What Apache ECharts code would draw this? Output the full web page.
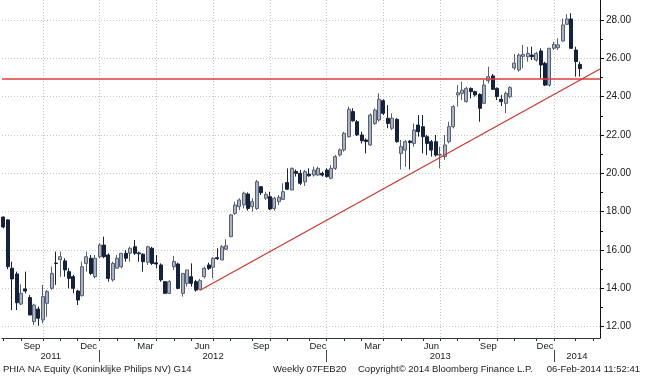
<!DOCTYPE html>
<html><head><meta charset="utf-8">
<script src="https://cdn.jsdelivr.net/npm/echarts@6/dist/echarts.min.js"></script>
<style>html,body{margin:0;padding:0;background:#fff}#c{width:645px;height:376px}</style>
</head><body><div id="c"></div><script>
// ---- data: weekly bars (Friday dates) ----
const dates = [
'2011-07-29','2011-08-05','2011-08-12','2011-08-19','2011-08-26','2011-09-02','2011-09-09','2011-09-16','2011-09-23','2011-09-30',
'2011-10-07','2011-10-14','2011-10-21','2011-10-28','2011-11-04','2011-11-11','2011-11-18','2011-11-25','2011-12-02','2011-12-09',
'2011-12-16','2011-12-23','2011-12-30',
'2012-01-06','2012-01-13','2012-01-20','2012-01-27','2012-02-03','2012-02-10','2012-02-17','2012-02-24','2012-03-02','2012-03-09',
'2012-03-16','2012-03-23','2012-03-30','2012-04-06','2012-04-13','2012-04-20','2012-04-27','2012-05-04','2012-05-11','2012-05-18',
'2012-05-25','2012-06-01','2012-06-08','2012-06-15','2012-06-22','2012-06-29','2012-07-06','2012-07-13','2012-07-20','2012-07-27',
'2012-08-03','2012-08-10','2012-08-17','2012-08-24','2012-08-31','2012-09-07','2012-09-14','2012-09-21','2012-09-28','2012-10-05',
'2012-10-12','2012-10-19','2012-10-26','2012-11-02','2012-11-09','2012-11-16','2012-11-23','2012-11-30','2012-12-07','2012-12-14',
'2012-12-21','2012-12-28',
'2013-01-04','2013-01-11','2013-01-18','2013-01-25','2013-02-01','2013-02-08','2013-02-15','2013-02-22','2013-03-01','2013-03-08',
'2013-03-15','2013-03-22','2013-03-29','2013-04-05','2013-04-12','2013-04-19','2013-04-26','2013-05-03','2013-05-10','2013-05-17',
'2013-05-24','2013-05-31','2013-06-07','2013-06-14','2013-06-21','2013-06-28','2013-07-05','2013-07-12','2013-07-19','2013-07-26',
'2013-08-02','2013-08-09','2013-08-16','2013-08-23','2013-08-30','2013-09-06','2013-09-13','2013-09-20','2013-09-27','2013-10-04',
'2013-10-11','2013-10-18','2013-10-25','2013-11-01','2013-11-08','2013-11-15','2013-11-22','2013-11-29','2013-12-06','2013-12-13',
'2013-12-20','2013-12-27',
'2014-01-03','2014-01-10','2014-01-17','2014-01-24','2014-01-31','2014-02-07'
];
const opens = [
17.72,17.57,15.05,14.75,13.18,13.97,13.52,12.26,12.92,12.35,
13.22,14.0,15.32,15.5,15.43,14.87,14.61,13.86,13.62,15.3,
15.57,14.61,15.65,16.26,15.74,14.44,15.05,15.13,15.83,15.83,
16.17,15.85,15.78,15.36,16.09,15.33,15.22,14.35,13.74,15.13,
15.27,13.74,14.26,14.61,14.35,13.95,14.61,15.22,15.1,15.6,
15.48,16.04,16.7,17.91,18.26,18.35,18.92,18.26,18.17,19.3,
18.7,18.78,18.17,18.52,18.64,19.52,19.13,20.09,20.0,19.56,
19.96,19.91,19.91,20.0,20.17,19.74,20.26,20.96,21.22,21.91,
23.22,22.69,22.0,21.74,21.48,22.6,22.78,23.79,22.87,22.35,
22.82,21.04,21.21,21.68,21.56,22.52,22.43,21.91,21.65,21.65,
20.95,20.87,21.65,22.43,24.09,24.17,23.74,24.43,24.26,24.12,
23.65,24.83,25.08,24.43,23.86,23.65,24.0,25.5,25.39,26.1,
26.08,26.17,25.91,26.38,25.74,24.6,26.52,26.55,26.9,27.77,
28.05,26.43,25.68
];
const closes = [
17.2,15.13,14.49,13.25,13.74,13.86,12.61,13.13,12.44,13.57,
13.83,14.78,15.3,15.65,14.96,14.52,14.0,13.39,15.13,15.65,
14.78,15.57,16.26,15.65,14.52,15.3,15.57,15.83,15.57,16.09,
15.83,15.8,15.39,16.17,15.3,15.27,14.44,13.74,14.35,15.4,
14.0,14.78,14.96,14.26,13.91,14.4,15.04,15.04,15.57,15.55,
16.17,16.22,17.83,18.35,18.61,18.96,18.17,18.52,19.56,18.99,
18.9,18.14,18.7,18.75,19.04,19.17,20.26,20.0,19.48,20.09,
19.87,20.17,20.26,19.91,19.83,20.26,20.87,21.22,22.09,23.34,
22.74,22.0,21.7,21.66,23.04,23.3,23.86,23.13,22.6,22.87,
21.65,21.39,21.65,21.6,22.26,22.17,21.91,21.56,21.21,20.95,
20.98,21.48,22.43,23.48,24.2,24.34,24.43,24.26,24.09,23.39,
24.6,25.04,24.38,24.0,23.74,24.17,24.47,25.75,26.17,26.2,
26.26,26.08,26.26,25.65,24.6,26.52,26.73,26.7,27.74,28.05,
26.52,25.83,25.46
];
const lows = [
17.13,15.0,12.87,12.87,13.13,13.74,12.6,12.09,12.05,12.17,
12.52,13.92,14.18,14.6,14.61,14.0,13.74,13.13,13.57,14.87,
14.7,14.52,15.57,15.57,14.35,14.35,15.05,15.05,15.39,15.39,
15.74,15.39,14.87,15.22,15.22,15.04,14.35,13.7,13.7,14.96,
13.95,13.57,14.09,14.09,13.83,13.9,14.52,14.96,14.52,15.48,
15.48,16.0,16.66,17.83,18.09,18.17,18.05,18.0,18.09,18.87,
18.61,18.09,18.05,18.35,18.61,19.13,19.13,19.83,19.39,19.34,
19.83,19.83,19.87,19.83,19.78,19.69,20.17,20.87,21.13,21.87,
22.69,21.95,21.56,21.04,21.43,22.52,22.7,23.04,22.35,22.26,
21.6,20.2,20.34,20.2,21.39,21.91,21.04,20.95,20.87,20.87,
20.26,20.7,21.56,22.34,23.48,23.82,23.69,23.91,24.0,22.69,
23.61,24.69,24.34,23.82,23.51,23.13,23.91,25.38,25.3,25.48,
25.82,25.91,25.82,24.95,24.55,24.52,26.43,26.43,26.87,27.74,
26.48,25.04,25.04
];
const highs = [
17.75,17.6,15.39,14.87,14.21,14.87,13.65,13.2,13.05,14.18,
13.92,15.13,15.92,15.92,15.57,15.05,14.7,13.92,15.39,15.92,
15.74,15.74,16.35,16.7,15.83,15.39,15.74,15.83,16.0,16.17,
16.52,15.92,15.83,16.22,16.17,15.74,15.3,14.35,14.44,15.69,
15.34,14.78,14.96,15.3,14.44,14.5,15.13,15.34,15.62,16.09,
16.26,16.56,17.88,18.52,18.7,19.04,19.0,18.7,19.65,19.34,
19.04,19.04,18.78,18.87,19.48,20.26,20.3,20.2,20.17,20.17,
20.26,20.35,20.35,20.09,20.26,20.43,20.96,21.3,22.17,23.48,
23.39,22.78,22.17,21.82,23.13,23.39,24.17,23.86,23.56,23.13,
22.87,21.74,21.74,21.74,22.6,23.04,23.04,22.0,21.74,22.0,
21.39,22.0,22.69,23.56,24.6,24.78,24.52,24.48,24.31,24.17,
24.87,25.56,25.18,24.48,24.09,24.26,24.55,26.22,26.26,26.7,
26.6,26.6,26.34,26.52,25.82,26.55,26.87,27.04,28.08,28.3,
28.35,26.6,25.82
];
// ---- axis ticks / labels ----
const yTickLabels = [12,14,16,18,20,22,24,26,28];
const yMinorTicks = [13,15,17,19,21,23,25,27];
const yMin = 11.41, yMax = 29.04;
const tickMonths = ['2011-08','2011-09','2011-10','2011-11','2011-12','2012-01','2012-02','2012-03','2012-04','2012-05','2012-06','2012-07','2012-08','2012-09','2012-10','2012-11','2012-12','2013-01','2013-02','2013-03','2013-04','2013-05','2013-06','2013-07','2013-08','2013-09','2013-10','2013-11','2013-12','2014-01','2014-02','2014-03'];
const gridMonths = ['2011-10','2012-01','2012-04','2012-07','2012-10','2013-01','2013-04','2013-07','2013-10','2014-01'];
const monthLabelMonths = ['2011-09','2011-12','2012-03','2012-06','2012-09','2012-12','2013-03','2013-06','2013-09','2013-12'];
const monthLabels = ['Sep','Dec','Mar','Jun','Sep','Dec','Mar','Jun','Sep','Dec'];
const yearLabels = ['2011','2012','2013','2014'];
const resistanceLevel = 24.93;
const lastPrice = 25.46;
const trendStart = ['2012-06-08', 13.9];
const trendEndValue = 25.44;
const footerLeft = 'PHIA NA Equity (Koninklijke Philips NV) G14';
const footerMid = 'Weekly 07FEB20';
const footerCopy = 'Copyright\u00A9 2014 Bloomberg Finance L.P.';
const footerDate = '06-Feb-2014 11:52:41';

// ---- helpers (x values are UTC timestamps on a value axis) ----
const FONT = '"Liberation Sans", Arial, sans-serif';
const DAY = 86400000;
const ts = s => { const p = s.split('-').map(Number); return Date.UTC(p[0], p[1]-1, p[2] || 1); };
const nextMonth = s => { const p = s.split('-').map(Number); return p[1] === 12 ? (p[0]+1)+'-01' : p[0]+'-'+String(p[1]+1).padStart(2,'0'); };
// Bloomberg places period boundaries on the last weekly bar of the old period
const boundary = m => { let d = ts(m) - DAY; while (new Date(d).getUTCDay() !== 5) d -= DAY; return d; };
const t0 = ts(dates[0]);
const xMin = t0 - 2.4 * DAY;
const xMax = t0 + 956.1 * DAY;

const monthTickVals = tickMonths.map(boundary);
const gridVals = gridMonths.map(boundary);
const monthLabelMap = new Map();
const monthLabelVals = monthLabelMonths.map((m, i) => {
  const v = (boundary(m) + boundary(nextMonth(m))) / 2;
  monthLabelMap.set(v, monthLabels[i]); return v;
});
const yearSeps = ['2012-01','2013-01','2014-01'].map(boundary);
const yearEdges = [xMin].concat(yearSeps, [xMax]);
const yearLabelMap = new Map();
const yearLabelVals = yearLabels.map((y, i) => {
  const v = Math.round((yearEdges[i] + yearEdges[i+1]) / 2);
  yearLabelMap.set(v, y); return v;
});
const nearest = (map, v) => { let best = '', bd = Infinity; map.forEach((t, k) => { const d = Math.abs(k - v); if (d < bd) { bd = d; best = t; } }); return bd < DAY ? best : ''; };

const candles = dates.map((d, i) => [ts(d), opens[i], closes[i], lows[i], highs[i]]);

const gridStyle = { color: '#c6c6c6', width: 1, type: [1, 2] };
const txt = { color: '#1a1a1a', fontFamily: FONT, fontSize: 9.5 };

const chart = echarts.init(document.getElementById('c'), null, { renderer: 'canvas' });
chart.setOption({
  animation: false,
  backgroundColor: '#ffffff',
  grid: { left: 2, right: 45, top: 0, bottom: 38, containLabel: false, outerBoundsMode: 'none' },
  xAxis: [
    { type: 'value', min: xMin, max: xMax, position: 'bottom', scale: true,
      axisLine: { show: true, onZero: false, lineStyle: { color: '#2e3440', width: 1 } },
      axisTick: { show: true, length: 3, customValues: monthTickVals, lineStyle: { color: '#2e3440' } },
      axisLabel: Object.assign({ show: true, customValues: monthLabelVals, margin: 3, hideOverlap: false,
        formatter: v => nearest(monthLabelMap, v) }, txt),
      splitLine: { show: false } },
    { type: 'value', min: xMin, max: xMax, position: 'bottom', offset: 12, scale: true,
      axisLine: { show: false, onZero: false },
      axisTick: { show: true, length: 12, customValues: yearSeps, lineStyle: { color: '#444' } },
      axisLabel: Object.assign({ show: true, customValues: yearLabelVals, margin: 1, hideOverlap: false,
        formatter: v => nearest(yearLabelMap, v) }, txt),
      splitLine: { show: false } },
    { type: 'value', min: xMin, max: xMax, position: 'bottom', scale: true,
      axisLine: { show: false, onZero: false },
      axisTick: { show: false, customValues: gridVals },
      axisLabel: { show: false },
      splitLine: { show: true, lineStyle: gridStyle } }
  ],
  yAxis: [
    { type: 'value', position: 'right', min: yMin, max: yMax,
      axisLine: { show: true, lineStyle: { color: '#111', width: 1 } },
      axisTick: { show: true, length: 4, customValues: yTickLabels, lineStyle: { color: '#111' } },
      axisLabel: Object.assign({ show: true, customValues: yTickLabels, margin: 6,
        formatter: v => Number(v).toFixed(2) }, txt, { fontSize: 10 }),
      splitLine: { show: true, lineStyle: gridStyle } },
    { type: 'value', position: 'right', min: yMin, max: yMax,
      axisLine: { show: false },
      axisTick: { show: true, length: 3, customValues: yMinorTicks, lineStyle: { color: '#111' } },
      axisLabel: { show: false },
      splitLine: { show: false } }
  ],
  series: [{
    type: 'candlestick',
    xAxisIndex: 0, yAxisIndex: 0,
    barWidth: 3.5,
    data: candles,
    itemStyle: { color: '#aab2c0', color0: '#16213a', borderColor: '#566072', borderColor0: '#16213a', borderWidth: 1 },
    markLine: {
      silent: true, animation: false, symbol: ['none', 'none'],
      data: [
        { yAxis: resistanceLevel, lineStyle: { color: '#dc3c3c', width: 1.6, type: 'solid' }, label: { show: false } },
        [ { coord: [ts(trendStart[0]), trendStart[1]], lineStyle: { color: '#c8372f', width: 1.2, type: 'solid' }, label: { show: false } },
          { coord: [xMax, trendEndValue] } ],
        { yAxis: lastPrice, lineStyle: { opacity: 0, width: 0 },
          label: { show: true, position: 'end', distance: 3, formatter: lastPrice.toFixed(2),
            color: '#ffffff', backgroundColor: '#0f1d36', padding: [2, 5, 1, 5],
            fontFamily: FONT, fontSize: 10.5, fontWeight: 'bold' } }
      ]
    }
  }],
  graphic: [
    { type: 'text', left: 3, top: 364, style: { text: footerLeft, fill: '#1a1a1a', font: '9.5px ' + FONT } },
    { type: 'text', left: 273, top: 364, style: { text: footerMid, fill: '#1a1a1a', font: '9.5px ' + FONT } },
    { type: 'text', left: 358, top: 364, style: { text: footerCopy, fill: '#1a1a1a', font: '9.5px ' + FONT } },
    { type: 'text', right: 5, top: 364, style: { text: footerDate, fill: '#1a1a1a', font: '9.5px ' + FONT } }
  ]
});
</script></body></html>
